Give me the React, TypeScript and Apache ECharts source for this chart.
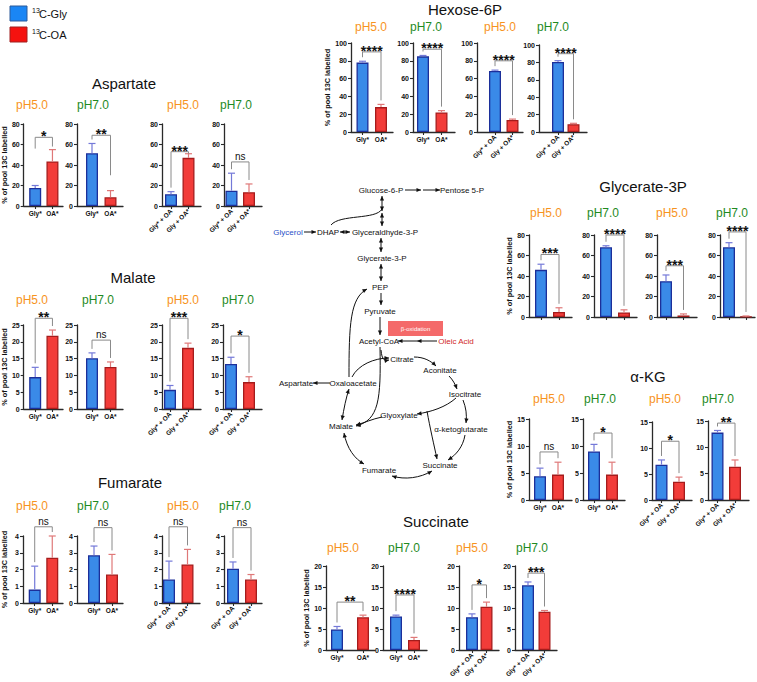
import React, { useEffect, useRef } from "react";
import * as echarts from "echarts";

// ---------------- data ----------------
const metabolites = ["Aspartate", "Malate", "Fumarate", "Hexose-6P", "Glycerate-3P", "α-KG", "Succinate"];
const conditions = ["pH5.0", "pH7.0", "pH5.0", "pH7.0"];
const singleLabels = ["Gly*", "OA*"];
const mixedLabels = ["Gly* + OA", "Gly + OA*"];
const legendLabels = ["C-Gly", "C-OA"];
const yAxisName = "% of pool 13C labelled";

const aspartateGly = [17.5, 51.5, 11.5, 15];
const aspartateGlySd = [2.5, 9.5, 2.5, 17];
const aspartateOA = [43.5, 8.5, 47, 13.5];
const aspartateOASd = [11.5, 6.5, 4, 8];
const aspartateSig = ["*", "**", "***", "ns"];
const aspartateBracket = [67, 69, 53, 43];
const aspartateLegEnd = [[56, 58], [null, 30], [null, null], [null, null]];

const malateGly = [9.5, 15.1, 5.7, 13.4];
const malateGlySd = [2.9, 1.6, 1.3, 2.0];
const malateOA = [21.8, 12.5, 18.2, 8.0];
const malateOASd = [1.7, 1.5, 1.4, 1.6];
const malateSig = ["**", "ns", "***", "*"];
const malateBracket = [27, 20.5, 27, 21.7];

const fumarateGly = [0.8, 2.85, 1.4, 2.05];
const fumarateGlySd = [1.4, 0.55, 1.1, 0.4];
const fumarateOA = [2.7, 1.7, 2.3, 1.4];
const fumarateOASd = [1.3, 1.2, 0.9, 0.3];
const fumarateSig = ["ns", "ns", "ns", "ns"];
const fumarateBracket = [4.55, 4.5, 4.55, 4.5];

const hexoseGly = [78, 85, 68.5, 80.5];
const hexoseGlySd = [1.5, 1, 1, 1.5];
const hexoseOA = [28, 22, 13.5, 9];
const hexoseOASd = [3, 2, 1, 1];
const hexoseSig = ["****", "****", "****", "****"];
const hexoseBracket = [90, 93, 80, 90];

const glycerateGly = [46, 68, 35, 68];
const glycerateGlySd = [5.5, 1.5, 6, 4.5];
const glycerateOA = [5, 4.5, 1.5, 0.3];
const glycerateOASd = [4, 2.5, 1.5, 0.7];
const glycerateSig = ["***", "****", "***", "****"];
const glycerateBracket = [61, 80, 50, 83];

const akgGly = [4.4, 9.0, 6.8, 12.8];
const akgGlySd = [1.5, 1.3, 0.9, 0.4];
const akgOA = [4.7, 4.7, 3.5, 6.3];
const akgOASd = [2.3, 2.3, 0.9, 1.3];
const akgSig = ["ns", "*", "*", "**"];
const akgBracket = [8.9, 12.4, 11.3, 14.6];

const succinateGly = [4.9, 8.0, 7.8, 15.4];
const succinateGlySd = [0.7, 0.3, 0.8, 0.8];
const succinateOA = [7.8, 2.4, 10.3, 9.1];
const succinateOASd = [0.5, 0.6, 1.1, 0.3];
const succinateSig = ["**", "****", "*", "***"];
const succinateBracket = [11.4, 13.1, 15.5, 18.3];

const axisMax = [80, 25, 4, 100, 80, 15, 20];
const axisStep = [20, 5, 1, 20, 20, 5, 5];

// ---------------- layout & style ----------------
const FONT = '"Liberation Sans", Arial, Helvetica, sans-serif';
const C = {
  blue: "#3a8ae8", blueEdge: "#1c2f9a", blueErr: "#7479d8",
  red: "#f23c39", redEdge: "#a51c1c", redErr: "#df7878",
  bracket: "#8a8a8a", axis: "#2a2a2a", text: "#111111",
  orange: "#f7931e", green: "#1f8a1f",
};

type Panel = [number, number, number, number, number?];
type BlockLayout = { title: [number, number]; phY: number; phX: number[]; top: number; bottom: number; nameGap: number; xLabels: boolean; panels: Panel[] };

const LAYOUT: BlockLayout[] = [
  { title: [124, 83], phY: 105, phX: [32, 93, 183, 236], top: 124, bottom: 206, nameGap: 15, xLabels: true,
    panels: [[22, 63, 34, 52], [77, 123, 92, 110.5], [162, 201, 171, 188.5], [224, 262, 231.5, 249]] },
  { title: [133, 277], phY: 300, phX: [32, 98, 183, 238], top: 325, bottom: 409, nameGap: 15, xLabels: true,
    panels: [[22, 63, 34, 52], [77, 123, 92, 110.5], [162, 201, 170, 188], [223, 262, 231, 249]] },
  { title: [130, 482], phY: 506, phX: [32, 93, 183, 235], top: 536, bottom: 603, nameGap: 15, xLabels: true,
    panels: [[22, 63, 34, 52], [77, 123, 94, 112], [162, 200, 169, 187.5], [224, 262, 233, 251]] },
  { title: [465, 9], phY: 27, phX: [371, 426, 500, 553], top: 43, bottom: 132, nameGap: 15, xLabels: true,
    panels: [[351, 393, 362.5, 381], [413, 455, 423, 441.5], [477, 523, 495, 512.5], [539, 587, 558, 573.5, 45]] },
  { title: [643, 186], phY: 213, phX: [546, 603, 672, 732], top: 235, bottom: 317, nameGap: 15, xLabels: false,
    panels: [[529, 572, 541, 559], [594, 637, 606, 624], [657, 697, 666, 683.5], [720, 755, 729, 746]] },
  { title: [648, 376], phY: 399, phX: [549, 600, 665, 718], top: 419, bottom: 500, nameGap: 15, xLabels: true,
    panels: [[529, 572, 540, 558], [583, 625, 594, 612], [652, 692, 661.5, 679, 422], [708, 749, 717.5, 735, 421]] },
  { title: [436, 521], phY: 548, phX: [343, 404, 472, 532], top: 566, bottom: 650, nameGap: 16, xLabels: true,
    panels: [[326, 375, 337, 363], [383, 427, 396, 414], [459, 499, 472, 486.5], [515, 557, 528, 544.5]] },
];

const noLegEnds = [[null, null], [null, null], [null, null], [null, null]];
const blockData: any[] = [
  [aspartateGly, aspartateGlySd, aspartateOA, aspartateOASd, aspartateSig, aspartateBracket, aspartateLegEnd],
  [malateGly, malateGlySd, malateOA, malateOASd, malateSig, malateBracket, noLegEnds],
  [fumarateGly, fumarateGlySd, fumarateOA, fumarateOASd, fumarateSig, fumarateBracket, noLegEnds],
  [hexoseGly, hexoseGlySd, hexoseOA, hexoseOASd, hexoseSig, hexoseBracket, noLegEnds],
  [glycerateGly, glycerateGlySd, glycerateOA, glycerateOASd, glycerateSig, glycerateBracket, noLegEnds],
  [akgGly, akgGlySd, akgOA, akgOASd, akgSig, akgBracket, noLegEnds],
  [succinateGly, succinateGlySd, succinateOA, succinateOASd, succinateSig, succinateBracket, noLegEnds],
];

// pathway diagram labels (annotation, not chart data)
const pathwayNodes: [string, number, number, string?][] = [
  ["Glucose-6-P", 381, 190], ["Pentose 5-P", 462, 190], ["Glycerol", 288, 232, "#2a4fc8"], ["DHAP", 328, 232],
  ["Glyceraldhyde-3-P", 385, 232], ["Glycerate-3-P", 382, 258], ["PEP", 380, 287], ["Pyruvate", 380, 311],
  ["Acetyl-CoA", 379, 341], ["Oleic Acid", 456, 341, "#d02828"], ["Citrate", 402, 359], ["Aconitate", 440, 370],
  ["Aspartate", 296, 383], ["Oxaloacetate", 353, 383], ["Isocitrate", 465, 394], ["Glyoxylate", 399, 415],
  ["Malate", 341, 426], ["α-ketoglutarate", 461, 429], ["Succinate", 440, 465], ["Fumarate", 379, 470],
];

// ---------------- helpers ----------------
function txt(text: string, x: number, y: number, o: any = {}) {
  const font = `${o.weight || "normal"} ${o.size || 10}px ${FONT}`;
  return {
    type: "text", x, y, silent: true, z: 20,
    style: {
      text, fill: o.fill || C.text, font,
      align: o.align || "center", verticalAlign: o.va || "middle",
      textAlign: o.align || "center", textVerticalAlign: o.va || "middle",
    },
  };
}

function head(x: number, y: number, ang: number, L = 4.5, W = 2.1) {
  const c = Math.cos(ang), s = Math.sin(ang);
  const bx = x - L * c, by = y - L * s;
  return {
    type: "polygon", silent: true, z: 20,
    shape: { points: [[x, y], [bx - W * s, by + W * c], [bx + W * s, by - W * c]] },
    style: { fill: "#111", stroke: "none" },
  };
}

function seg(x1: number, y1: number, x2: number, y2: number, s = false, e = true) {
  const out: any[] = [{ type: "line", silent: true, z: 20, shape: { x1, y1, x2, y2 }, style: { stroke: "#111", lineWidth: 1 } }];
  const ang = Math.atan2(y2 - y1, x2 - x1);
  if (e) out.push(head(x2, y2, ang));
  if (s) out.push(head(x1, y1, ang + Math.PI));
  return out;
}

function curve(p0: number[], p1: number[], p2: number[], p3: number[], s = false, e = true) {
  const out: any[] = [{
    type: "bezierCurve", silent: true, z: 20,
    shape: { x1: p0[0], y1: p0[1], cpx1: p1[0], cpy1: p1[1], cpx2: p2[0], cpy2: p2[1], x2: p3[0], y2: p3[1] },
    style: { stroke: "#111", fill: "none", lineWidth: 1 },
  }];
  if (e) out.push(head(p3[0], p3[1], Math.atan2(p3[1] - p2[1], p3[0] - p2[0])));
  if (s) out.push(head(p0[0], p0[1], Math.atan2(p0[1] - p1[1], p0[0] - p1[0])));
  return out;
}

function pathwayElements() {
  const els: any[] = [];
  els.push({ type: "rect", silent: true, z: 15, shape: { x: 388, y: 321, width: 55, height: 15 }, style: { fill: "#f46a6a" } });
  els.push(txt("β-oxidation", 415.5, 328.5, { size: 6, fill: "#ffffff" }));
  pathwayNodes.forEach(([t, x, y, col]) => els.push(txt(t, x, y, { size: 8, fill: col || C.text })));
  els.push(...seg(405, 190, 421, 190));
  els.push(...seg(423, 190, 440, 190));
  els.push(...seg(382, 196, 382, 211, true, true));
  els.push(...seg(382, 213, 382, 226, true, true));
  els.push(...curve([331, 225], [340, 214], [376, 220], [382, 209], false, false));
  els.push(...seg(304, 232, 316, 232));
  els.push(...seg(340, 232, 350, 232, true, true));
  els.push(...seg(381, 238, 381, 252, true, true));
  els.push(...seg(381, 264, 381, 281, true, true));
  els.push(...seg(381, 293, 381, 305));
  els.push(...seg(380, 317, 380, 335));
  els.push(...seg(437, 341, 417, 341));
  els.push(...seg(417, 341, 398, 341));
  els.push(...curve([380, 347], [381, 400], [379, 420], [356, 426]));
  els.push(...curve([381, 350], [382, 360], [384, 361], [389, 360]));
  els.push(...curve([352, 377], [358, 365], [374, 358], [389, 358]));
  els.push(...curve([414, 357], [424, 357], [431, 361], [436, 366]));
  els.push(...curve([449, 376], [453, 380], [455, 384], [457, 389]));
  els.push(...curve([463, 400], [466, 408], [467, 414], [466, 423]));
  els.push(...curve([465, 435], [463, 447], [456, 455], [448, 460]));
  els.push(...curve([456, 398], [446, 407], [431, 412], [417, 414]));
  els.push(...curve([427, 411], [430, 428], [434, 445], [437, 459]));
  els.push(...curve([382, 417], [372, 419], [364, 423], [356, 425]));
  els.push(...curve([342, 420], [344, 408], [346, 398], [349, 389], true, true));
  els.push(...seg(330, 383, 313, 383));
  els.push(...curve([349, 377], [349, 325], [350, 298], [367, 289]));
  els.push(...curve([344, 433], [347, 449], [355, 459], [364, 464], true, true));
  els.push(...curve([392, 476], [405, 480], [420, 478], [432, 471], true, true));
  return els;
}

function legendElements() {
  return [
    { type: "rect", silent: true, shape: { x: 10, y: 6, width: 17, height: 15 }, style: { fill: "#1a86f5", stroke: "#2d5a9a", lineWidth: 1 } },
    txt("13", 32, 10, { size: 7, align: "left" }),
    txt(legendLabels[0], 39, 14, { size: 11, align: "left" }),
    { type: "rect", silent: true, shape: { x: 10, y: 27, width: 17, height: 15 }, style: { fill: "#f5120f", stroke: "#a02020", lineWidth: 1 } },
    txt("13", 32, 31, { size: 7, align: "left" }),
    txt(legendLabels[1], 39, 35, { size: 11, align: "left" }),
  ];
}

function buildOption() {
  const grid: any[] = [], xAxis: any[] = [], yAxis: any[] = [], series: any[] = [];
  const elements: any[] = [...legendElements(), ...pathwayElements()];

  LAYOUT.forEach((L, bi) => {
    const [gly, glySd, oa, oaSd, sig, bracket, legEnd] = blockData[bi];
    elements.push(txt(metabolites[bi], L.title[0], L.title[1], { size: 15 }));
    L.panels.forEach((p, i) => {
      const [left, right, c0, c1, topO] = p;
      const top = topO ?? L.top;
      const k = grid.length;
      const u = c1 - c0;
      const labels = i < 2 ? singleLabels : mixedLabels;
      elements.push(txt(conditions[i], L.phX[i], L.phY, { size: 12, fill: i % 2 === 0 ? C.orange : C.green }));
      grid.push({ left, top, width: right - left, height: L.bottom - top, containLabel: false });
      xAxis.push({
        type: "value", gridIndex: k,
        min: -(c0 - left) / u, max: 1 + (right - c1) / u,
        axisLine: { show: true, onZero: false, lineStyle: { color: C.axis, width: 1.3 } },
        axisTick: { show: true, customValues: [0, 1], length: 3, lineStyle: { color: C.axis, width: 1.1 } },
        axisLabel: {
          show: L.xLabels, customValues: [0, 1], formatter: (v: number) => labels[Math.round(v)] ?? "",
          rotate: i < 2 ? 0 : 45, fontSize: 6.5, fontWeight: "bold", fontFamily: FONT, color: C.text, margin: 4,
        },
        splitLine: { show: false },
      });
      yAxis.push({
        type: "value", gridIndex: k, min: 0, max: axisMax[bi], interval: axisStep[bi],
        axisLine: { show: true, onZero: false, lineStyle: { color: C.axis, width: 1.3 } },
        axisTick: { show: true, length: 3, lineStyle: { color: C.axis, width: 1.1 } },
        axisLabel: { fontSize: 7, fontWeight: "bold", fontFamily: FONT, color: C.text, margin: 4 },
        splitLine: { show: false },
        name: i === 0 ? yAxisName : "", nameLocation: "middle", nameGap: L.nameGap,
        nameTextStyle: { fontSize: 7.3, fontWeight: "bold", fontFamily: FONT, color: C.text },
      });
      series.push({
        type: "bar", xAxisIndex: k, yAxisIndex: k, barWidth: 12, silent: true, z: 2,
        data: [
          { value: [0, gly[i]], itemStyle: { color: C.blue, borderColor: C.blueEdge, borderWidth: 1.3 } },
          { value: [1, oa[i]], itemStyle: { color: C.red, borderColor: C.redEdge, borderWidth: 1.3 } },
        ],
      });
      const means = [gly[i], oa[i]];
      const tops = [gly[i] + glySd[i], oa[i] + oaSd[i]];
      const errCols = [C.blueErr, C.redErr];
      const s = sig[i];
      const level = bracket[i];
      const ends = legEnd[i];
      series.push({
        type: "custom", xAxisIndex: k, yAxisIndex: k, clip: false, silent: true, z: 3,
        data: [[0, 0]],
        renderItem: (_params: any, api: any) => {
          const children: any[] = [];
          const legEnds: number[] = [];
          for (let j = 0; j < 2; j++) {
            const a = api.coord([j, means[j]]);
            const t = api.coord([j, tops[j]]);
            children.push({ type: "line", shape: { x1: a[0], y1: a[1], x2: t[0], y2: t[1] }, style: { stroke: errCols[j], lineWidth: 1.2 } });
            children.push({ type: "line", shape: { x1: t[0] - 3.5, y1: t[1], x2: t[0] + 3.5, y2: t[1] }, style: { stroke: errCols[j], lineWidth: 1.2 } });
            legEnds.push(ends[j] != null ? api.coord([j, ends[j]])[1] : t[1] - 4);
          }
          const b0 = api.coord([0, level]);
          const b1 = api.coord([1, level]);
          const yb = b0[1];
          children.push({
            type: "polyline",
            shape: { points: [[b0[0], Math.max(legEnds[0], yb + 2)], [b0[0], yb], [b1[0], yb], [b1[0], Math.max(legEnds[1], yb + 2)]] },
            style: { stroke: C.bracket, lineWidth: 1, fill: "none" },
          });
          const isNs = s === "ns";
          children.push({
            type: "text", x: (b0[0] + b1[0]) / 2, y: isNs ? yb - 5.5 : yb - 1,
            style: {
              text: s, fill: C.text, font: `${isNs ? "normal" : "bold"} ${isNs ? 10 : 14}px ${FONT}`,
              align: "center", verticalAlign: "middle", textAlign: "center", textVerticalAlign: "middle",
            },
          });
          return { type: "group", children };
        },
      });
    });
  });

  return {
    animation: false,
    backgroundColor: "#ffffff",
    textStyle: { fontFamily: FONT },
    grid, xAxis, yAxis, series,
    graphic: { elements },
  };
}

export default function App() {
  const ref = useRef<HTMLDivElement>(null);
  useEffect(() => {
    if (!ref.current) return;
    const chart = echarts.init(ref.current, undefined, { renderer: "svg" });
    chart.setOption(buildOption() as any);
    return () => chart.dispose();
  }, []);
  return <div ref={ref} style={{ position: "absolute", left: 0, top: 0, width: 757, height: 682, background: "#fff" }} />;
}
